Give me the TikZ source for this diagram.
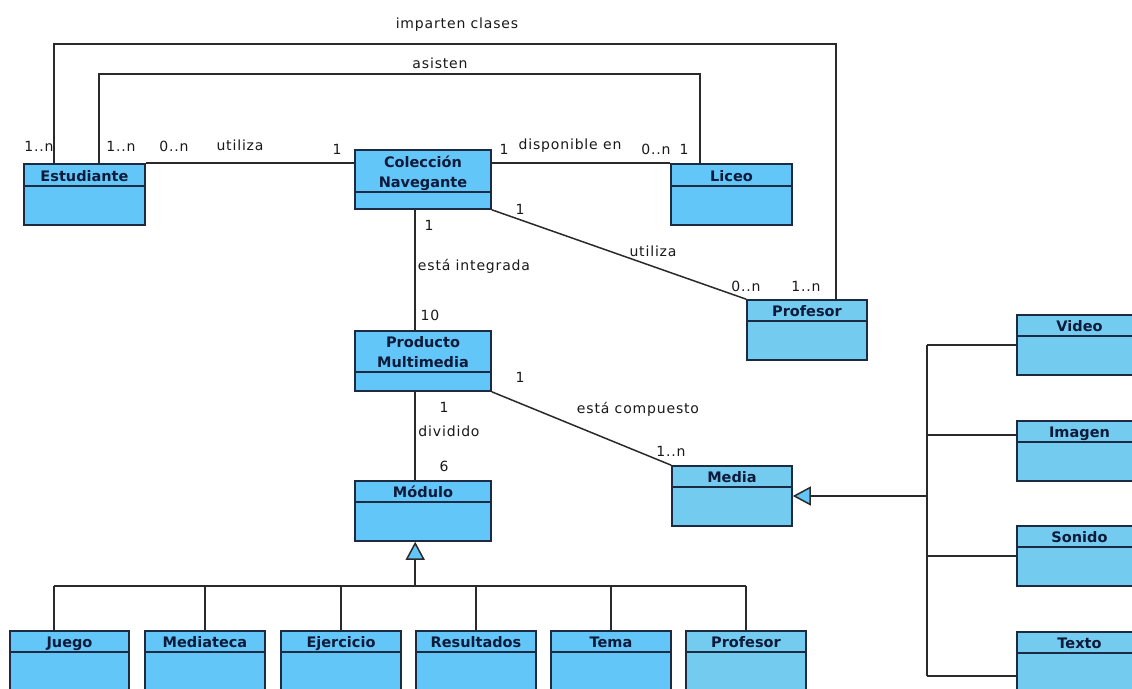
\documentclass[tikz,border=0pt]{standalone}
\usepackage{fontspec}
\setmainfont{DejaVu Sans}
\newfontfamily\lblfont{DejaVu Sans}[LetterSpace=6]
\usetikzlibrary{arrows.meta}

\definecolor{clsfill}{HTML}{62C6F8}
\definecolor{clsfillb}{HTML}{74CBF0}
\definecolor{clsedge}{HTML}{1C2B42}
\definecolor{clstext}{HTML}{0E1A3A}
\definecolor{wirecol}{HTML}{2A2A2A}

\tikzset{
  cls/.style={draw=clsedge, line width=1.6pt, inner sep=0pt, rectangle},
  clsname/.style={font=\fontsize{14.5}{19.5}\selectfont\bfseries, text=clstext,
                  inner sep=0pt, align=center, anchor=base},
  lbl/.style={font=\lblfont\fontsize{14}{16}\selectfont, text=black!90, inner sep=0pt},
  wire/.style={draw=wirecol, line width=1.5pt},
  gen/.style={wire, -{Triangle[length=18pt, width=19pt, fill=clsfill]}},
}

% UML class box: name, x1, y1, x2, y2, divider y, fill, title
\newcommand\umlclass[8]{%
  \node[cls, fill=#7, minimum width={(#4-#2)*1pt}, minimum height={(#5-#3)*1pt}]
    (#1) at ({(#2+#4)/2},{(#3+#5)/2}) {};
  \draw[draw=clsedge, line width=1.5pt] (#2,#6) -- (#4,#6);
  \node[clsname] (#1-name) at ({(#2+#4)/2},{#6-5}) {#8};
}

\begin{document}
\begin{tikzpicture}[x=1pt, y=-1pt]
  \useasboundingbox (0,0) rectangle (1132,688);
  \fill[white] (0,0) rectangle (1132,688);
  \clip (0,0) rectangle (1132,688);

  % classes
  \umlclass{est}{24}{164}{145}{225}{186}{clsfill}{Estudiante}
  \umlclass{col}{355}{150}{491}{209}{192}{clsfill}{Colección\\Navegante}
  \umlclass{lic}{671}{164}{792}{225}{186}{clsfill}{Liceo}
  \umlclass{profR}{747}{300}{867}{360}{321}{clsfillb}{Profesor}
  \umlclass{prod}{355}{331}{491}{391}{372}{clsfill}{Producto\\Multimedia}
  \umlclass{mod}{355}{481}{491}{541}{502}{clsfill}{Módulo}
  \umlclass{media}{672}{466}{792}{526}{487}{clsfillb}{Media}

  \umlclass{vid}{1017}{315}{1142}{375}{336}{clsfillb}{Video}
  \umlclass{img}{1017}{421}{1142}{481}{442}{clsfillb}{Imagen}
  \umlclass{son}{1017}{526}{1142}{586}{547}{clsfillb}{Sonido}
  \umlclass{tex}{1017}{632}{1142}{700}{653}{clsfillb}{Texto}

  \umlclass{jue}{10}{631}{129}{700}{652}{clsfill}{Juego}
  \umlclass{med}{145}{631}{265}{700}{652}{clsfill}{Mediateca}
  \umlclass{eje}{281}{631}{401}{700}{652}{clsfill}{Ejercicio}
  \umlclass{res}{416}{631}{536}{700}{652}{clsfill}{Resultados}
  \umlclass{tem}{551}{631}{671}{700}{652}{clsfill}{Tema}
  \umlclass{profB}{686}{631}{806}{700}{652}{clsfillb}{Profesor}

  % connector end points on the boxes
  \coordinate (est-ic) at ([xshift=31pt]est.north west);
  \coordinate (est-as) at ([xshift=76pt]est.north west);
  \coordinate (lic-as) at ([xshift=30pt]lic.north west);
  \coordinate (prof-ic) at ([xshift=90pt]profR.north west);
  \coordinate (col-d) at ([xshift=61pt]col.south west);
  \coordinate (prod-d) at ([xshift=61pt]prod.south west);
  \coordinate (mod-d) at ([xshift=61pt]mod.south west);
  \coordinate (jue-d) at ([xshift=45pt]jue.north west);
  \coordinate (img-b) at ([yshift=16pt]img.west);
  \coordinate (tex-b) at ([yshift=-45pt]tex.north west);
  \coordinate (icy) at (0,44);
  \coordinate (asy) at (0,74);
  \coordinate (busy) at (0,586);
  \coordinate (trunk) at (927,0);

  % associations
  \draw[wire] (est-ic) |- (prof-ic |- icy) -- (prof-ic);
  \draw[wire] (est-as) |- (lic-as |- asy) -- (lic-as);
  \draw[wire] (est.north east) -- (est.north east -| col.west);
  \draw[wire] (col.east |- lic.north west) -- (lic.north west);
  \draw[wire] (col.south east) -- (profR.north west);
  \draw[wire] (col-d) -- (col-d |- prod.north);
  \draw[wire] (prod-d) -- (prod-d |- mod.north);
  \draw[wire] (prod.south east) -- (media.north west);

  % generalization of Módulo
  \draw[gen] (mod-d |- busy) -- (mod-d);
  \draw[wire] (jue-d |- busy) -- (profB.north |- busy);
  \draw[wire] (jue-d |- busy) -- (jue-d);
  \draw[wire] (med.north |- busy) -- (med.north);
  \draw[wire] (eje.north |- busy) -- (eje.north);
  \draw[wire] (res.north |- busy) -- (res.north);
  \draw[wire] (tem.north |- busy) -- (tem.north);
  \draw[wire] (profB.north |- busy) -- (profB.north);

  % generalization of Media
  \draw[gen] (trunk |- media.east) -- (media.east);
  \draw[wire] (trunk |- vid.west) -- (trunk |- tex-b);
  \draw[wire] (trunk |- vid.west) -- (vid.west);
  \draw[wire] (trunk |- img-b) -- (img-b);
  \draw[wire] (trunk |- son.west) -- (son.west);
  \draw[wire] (trunk |- tex-b) -- (tex-b);

  % association names and multiplicities
  \node[lbl] (l-imp) at (457,25) {imparten clases};
  \node[lbl] (l-asi) at (440,63) {asisten};
  \node[lbl] (m-est-ic) at (39,146) {1..n};
  \node[lbl] (m-est-as) at (121,146) {1..n};
  \node[lbl] (m-est-ut) at (174,146) {0..n};
  \node[lbl] (l-uti1) at (240,145) {utiliza};
  \node[lbl] (m-col-ut) at (337,149) {1};
  \node[lbl] (m-col-di) at (504,149) {1};
  \node[lbl] (l-dis) at (570,146) {disponible en};
  \node[lbl] (m-lic-di) at (656,149) {0..n};
  \node[lbl] (m-lic-as) at (684,149) {1};
  \node[lbl] (m-col-pr) at (520,209) {1};
  \node[lbl] (l-uti2) at (653,251) {utiliza};
  \node[lbl] (m-pro-ut) at (746,286) {0..n};
  \node[lbl] (m-pro-ic) at (806,286) {1..n};
  \node[lbl] (m-col-in) at (429,225) {1};
  \node[lbl] (l-int) at (474,266) {está integrada};
  \node[lbl] (m-prod-in) at (430,315) {10};
  \node[lbl] (m-prod-co) at (520,377) {1};
  \node[lbl] (m-prod-di) at (444,407) {1};
  \node[lbl] (l-div) at (449,431) {dividido};
  \node[lbl] (m-mod-di) at (444,466) {6};
  \node[lbl] (l-com) at (638,409) {está compuesto};
  \node[lbl] (m-med-co) at (671,451) {1..n};
\end{tikzpicture}
\end{document}
